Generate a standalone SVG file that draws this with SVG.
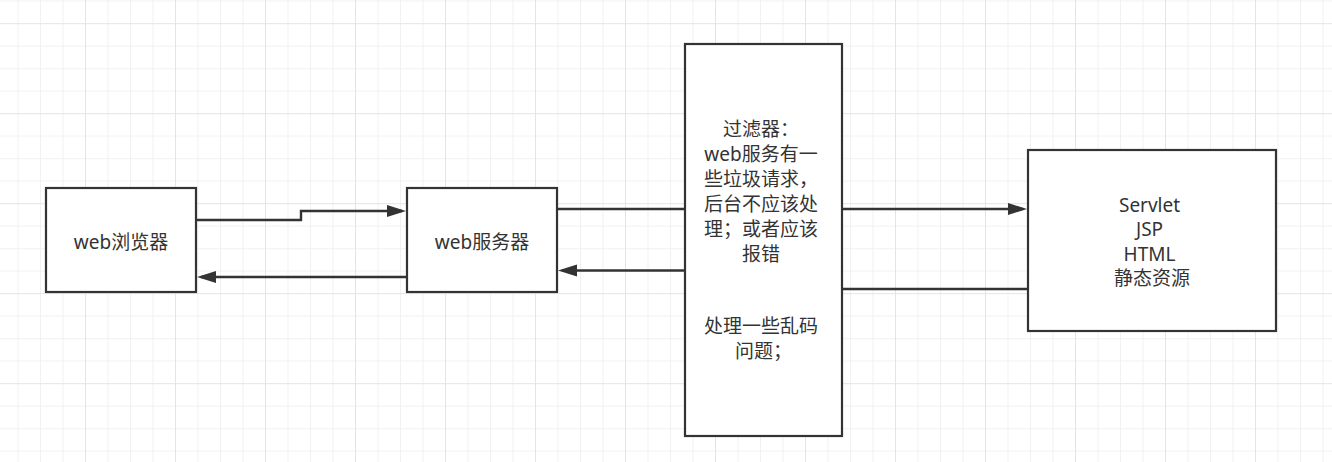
<svg xmlns="http://www.w3.org/2000/svg" width="1332" height="462" viewBox="0 0 1332 462">
  <style>
    .box { fill: #ffffff; stroke: #333333; stroke-width: 2.2; }
    .edge { fill: none; stroke: #333333; stroke-width: 2.4; }
    .lbl { font-family: "Noto Sans", "Noto Sans CJK SC", sans-serif; font-size: 19px; fill: #333333; text-anchor: middle; }
  </style>
  <defs>
    <pattern id="grid" patternUnits="userSpaceOnUse" x="-5" y="23.2" width="90" height="90">
      <rect x="0" y="0" width="90" height="90" fill="#ffffff"/>
      <rect x="22.5" y="0" width="1" height="90" fill="#f1f1f1"/>
      <rect x="45" y="0" width="1" height="90" fill="#f1f1f1"/>
      <rect x="67.5" y="0" width="1" height="90" fill="#f1f1f1"/>
      <rect x="0" y="22.5" width="90" height="1" fill="#f1f1f1"/>
      <rect x="0" y="45" width="90" height="1" fill="#f1f1f1"/>
      <rect x="0" y="67.5" width="90" height="1" fill="#f1f1f1"/>
      <rect x="0" y="0" width="1" height="90" fill="#e4e4e4"/>
      <rect x="0" y="0" width="90" height="1" fill="#e4e4e4"/>
    </pattern>
    <marker id="arrow" markerUnits="userSpaceOnUse" markerWidth="20" markerHeight="14" refX="15" refY="6" orient="auto">
      <path d="M0,0 L19,6 L0,12 Z" fill="#333333"/>
    </marker>
  </defs>
  <rect x="0" y="0" width="1332" height="462" fill="url(#grid)"/>

  <g id="connectors">
    <path class="edge" d="M196,220 H301 V211 H402" marker-end="url(#arrow)"/>
    <path class="edge" d="M406,277 H201" marker-end="url(#arrow)"/>
    <path class="edge" d="M684,209 H558"/>
    <path class="edge" d="M684,270.5 H562" marker-end="url(#arrow)"/>
    <path class="edge" d="M843,209 H1023" marker-end="url(#arrow)"/>
    <path class="edge" d="M1027,289 H843"/>
  </g>

  <g id="browser">
    <rect class="box" x="46" y="188" width="150" height="104"/>
    <text class="lbl" x="121" y="249">web浏览器</text>
  </g>

  <g id="webserver">
    <rect class="box" x="407" y="188" width="150" height="104"/>
    <text class="lbl" x="482" y="249">web服务器</text>
  </g>

  <g id="filter">
    <rect class="box" x="685" y="44" width="157" height="392"/>
    <text class="lbl">
      <tspan x="763.5" y="136">过滤器：</tspan>
      <tspan x="763.5" y="161">web服务有一</tspan>
      <tspan x="763.5" y="186">些垃圾请求，</tspan>
      <tspan x="763.5" y="211">后台不应该处</tspan>
      <tspan x="763.5" y="236">理；或者应该</tspan>
      <tspan x="763.5" y="261">报错</tspan>
      <tspan x="763.5" y="333">处理一些乱码</tspan>
      <tspan x="763.5" y="358">问题；</tspan>
    </text>
  </g>

  <g id="resources">
    <rect class="box" x="1028" y="150" width="248" height="181"/>
    <text class="lbl">
      <tspan x="1152" y="211.5">Servlet</tspan>
      <tspan x="1152" y="236">JSP</tspan>
      <tspan x="1152" y="260.5">HTML</tspan>
      <tspan x="1152" y="285">静态资源</tspan>
    </text>
  </g>
</svg>
